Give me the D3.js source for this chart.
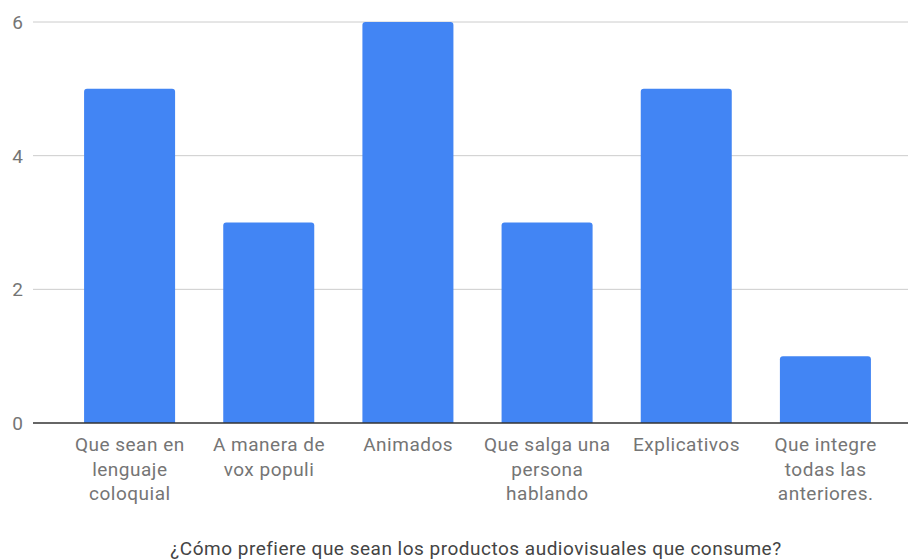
<!DOCTYPE html>
<html>
<head>
<meta charset="utf-8">
<script src="https://cdn.jsdelivr.net/npm/d3@7"></script>
<style>
  html, body { margin: 0; padding: 0; background: #fff; }
  svg { display: block; font-family: Roboto, "Noto Sans", sans-serif; }
</style>
</head>
<body>
<svg id="chart" width="908" height="560"></svg>
<script>
// Survey answers and their counts
const categories = [
  ["Que sean en", "lenguaje", "coloquial"],
  ["A manera de", "vox populi"],
  ["Animados"],
  ["Que salga una", "persona", "hablando"],
  ["Explicativos"],
  ["Que integre", "todas las", "anteriores."]
];
const counts = [5, 3, 6, 3, 5, 1];
const yTicks = [0, 2, 4, 6];
const axisTitle = "¿Cómo prefiere que sean los productos audiovisuales que consume?";

const svg = d3.select("#chart");
const gridLeft = 33, gridRight = 908;
const fontSize = 19, spacing = 0.5;

const x = d3.scaleBand()
  .domain(d3.range(categories.length))
  .range([60, 895])
  .paddingInner(0.346)
  .paddingOuter(0.173);

const y = d3.scaleLinear().domain([0, 6]).range([423, 22]);

// horizontal gridlines
svg.append("g")
  .selectAll("line")
  .data(yTicks.filter(d => d !== 0))
  .join("line")
  .attr("x1", gridLeft).attr("x2", gridRight)
  .attr("y1", d => y(d)).attr("y2", d => y(d))
  .attr("stroke", "#cccccc").attr("stroke-width", 1);

// y tick labels
svg.append("g")
  .selectAll("text")
  .data(yTicks)
  .join("text")
  .attr("x", 23)
  .attr("y", d => y(d))
  .attr("dy", "0.36em")
  .attr("text-anchor", "end")
  .attr("fill", "#757575")
  .attr("font-size", fontSize)
  .text(d => d);

// bars with slightly rounded tops
const r = 3;
svg.append("g")
  .selectAll("path")
  .data(counts)
  .join("path")
  .attr("fill", "#4285f4")
  .attr("d", (d, i) => {
    const x0 = x(i), w = x.bandwidth(), top = y(d), base = y(0);
    return `M${x0},${base}V${top + r}Q${x0},${top} ${x0 + r},${top}` +
           `H${x0 + w - r}Q${x0 + w},${top} ${x0 + w},${top + r}V${base}Z`;
  });

// baseline
svg.append("line")
  .attr("x1", gridLeft).attr("x2", gridRight)
  .attr("y1", y(0)).attr("y2", y(0))
  .attr("stroke", "#333333").attr("stroke-width", 1.5);

// category labels, wrapped over several lines
const labels = svg.append("g")
  .selectAll("text")
  .data(categories)
  .join("text")
  .attr("text-anchor", "middle")
  .attr("fill", "#757575")
  .attr("font-size", fontSize)
  .attr("letter-spacing", spacing)
  .attr("x", (d, i) => x(i) + x.bandwidth() / 2 + spacing / 2)
  .attr("y", 451);
labels.selectAll("tspan")
  .data(d => d)
  .join("tspan")
  .attr("x", function() { return this.parentNode.getAttribute("x"); })
  .attr("dy", (d, j) => j === 0 ? 0 : 24.5)
  .text(d => d);

// horizontal axis title
svg.append("text")
  .attr("x", 476)
  .attr("y", 555)
  .attr("text-anchor", "middle")
  .attr("fill", "#444444")
  .attr("font-size", fontSize)
  .attr("letter-spacing", spacing)
  .text(axisTitle);
</script>
</body>
</html>
